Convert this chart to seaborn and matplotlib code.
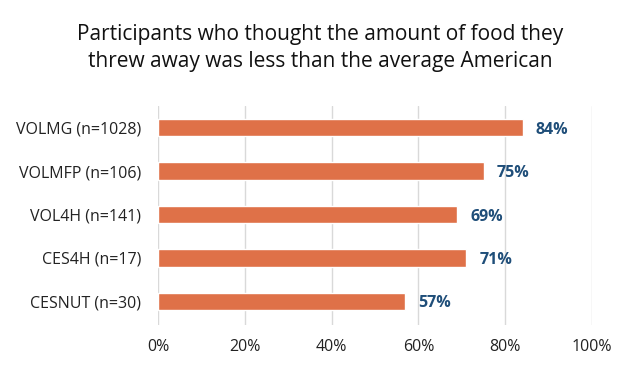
import matplotlib
matplotlib.use("Agg")
import matplotlib.pyplot as plt
import seaborn as sns
import pandas as pd

# data
groups = ["VOLMG (n=1028)", "VOLMFP (n=106)", "VOL4H (n=141)", "CES4H (n=17)", "CESNUT (n=30)"]
shares = [84, 75, 69, 71, 57]
xticks = [0, 20, 40, 60, 80, 100]

df = pd.DataFrame({"group": groups, "share": shares})

sns.set_theme(style="white")
plt.rcParams["font.family"] = ["Open Sans", "DejaVu Sans"]

fig = plt.figure(figsize=(6.4, 3.72), dpi=100)
ax = fig.add_axes([0.247, 0.126, 0.678, 0.589])

sns.barplot(data=df, x="share", y="group", color="#DF7148", saturation=1,
            width=0.4, ax=ax, zorder=3)

for i, v in enumerate(shares):
    ax.text(v + 3, i + 0.05, f"{v}%", va="center", ha="left", fontsize=11.5,
            fontweight="bold", color="#1F4E79")

ax.set_xlim(0, 100)
ax.set_ylim(4.55, -0.5)
ax.set_xticks(xticks)
ax.set_xticklabels([f"{t}%" for t in xticks], fontsize=11.5, color="#222222")
ax.tick_params(axis="y", labelsize=11.5, labelcolor="#222222", length=0, pad=12)
ax.tick_params(axis="x", length=0, pad=10)
ax.set_xlabel("")
ax.set_ylabel("")
ax.grid(axis="x", color="#D9D9D9", linewidth=1, zorder=0)
for s in ax.spines.values():
    s.set_visible(False)

fig.suptitle("Participants who thought the amount of food they\nthrew away was less than the average American",
             x=0.50, y=0.935, fontsize=15, color="#111111", linespacing=1.35)

fig.savefig("out.png", dpi=100)
